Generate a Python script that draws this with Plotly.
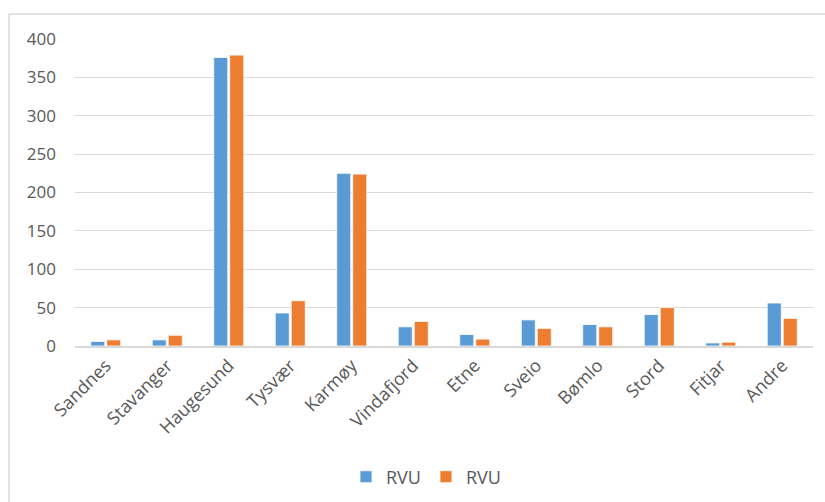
import plotly.graph_objects as go

categories = ["Sandnes", "Stavanger", "Haugesund", "Tysvær", "Karmøy", "Vindafjord",
              "Etne", "Sveio", "Bømlo", "Stord", "Fitjar", "Andre"]
series1_name = "RVU"
series1 = [6, 8, 376, 43, 225, 25, 15, 34, 28, 41, 4, 56]
series2_name = "RVU"
series2 = [8, 14, 379, 59, 224, 32, 9, 23, 25, 50, 5, 36]
y_ticks = [0, 50, 100, 150, 200, 250, 300, 350, 400]

W, H = 825, 502
L, R, T, B = 75, 12, 39, 156
pw = W - L - R
ph = H - T - B

def px_x(x):
    return (x - L) / pw

def px_y(y):
    return (H - B - y) / ph

fig = go.Figure()
fig.add_trace(go.Bar(x=categories, y=series1, name=series1_name,
                     marker=dict(color="#5B9BD5", line=dict(color="white", width=0.8))))
fig.add_trace(go.Bar(x=categories, y=series2, name=series2_name,
                     marker=dict(color="#ED7D31", line=dict(color="white", width=0.8))))

font = "Open Sans, Liberation Sans, Arial, sans-serif"
fig.update_layout(
    width=W, height=H,
    margin=dict(l=L, r=R, t=T, b=B, pad=0, autoexpand=False),
    paper_bgcolor="white", plot_bgcolor="white",
    barmode="group", bargap=0.48, bargroupgap=0.12,
    font=dict(family=font, size=17, color="#595959"),
    showlegend=True,
    legend=dict(orientation="h", x=px_x(426), xanchor="center", y=px_y(477), yanchor="middle",
                font=dict(size=18, color="#595959"), itemwidth=30, bgcolor="rgba(0,0,0,0)"),
    xaxis=dict(tickangle=-45, showgrid=False, showline=True, linecolor="#D9D9D9", linewidth=2,
               ticks="", tickfont=dict(size=18, color="#595959"), fixedrange=True, automargin=False),
    yaxis=dict(range=[0, 400], tickvals=y_ticks, showgrid=True, gridcolor="#D9D9D9", gridwidth=1,
               zeroline=False, showline=False, ticks="", ticklabelstandoff=18,
               tickfont=dict(size=17, color="#595959"), fixedrange=True, automargin=False),
    shapes=[
        dict(type="line", xref="paper", yref="paper", x0=px_x(9), x1=px_x(826), y0=px_y(14), y1=px_y(14),
             line=dict(color="#D9D9D9", width=1.5)),
        dict(type="line", xref="paper", yref="paper", x0=px_x(9), x1=px_x(9), y0=px_y(14), y1=px_y(503),
             line=dict(color="#D9D9D9", width=1.5)),
    ],
)

fig.write_html("out.html", config={"displayModeBar": False},
               post_script="document.body.style.margin='0';document.body.style.overflow='hidden';")
